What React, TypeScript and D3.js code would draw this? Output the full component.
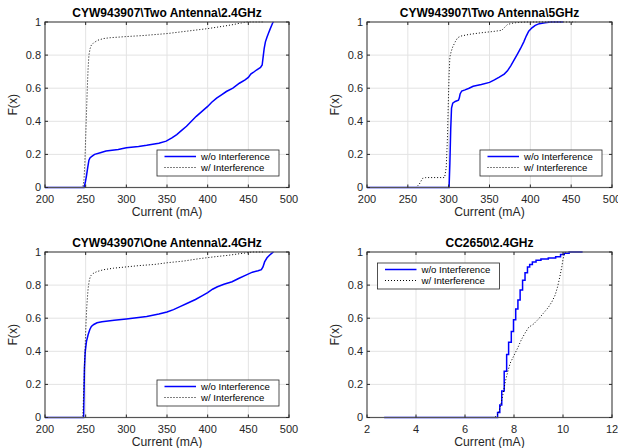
import React from 'react';
import * as d3 from 'd3';

type Pt = [number, number];

// ---- data ----
const titles = [
  'CYW943907\\Two Antenna\\2.4GHz',
  'CYW943907\\Two Antenna\\5GHz',
  'CYW943907\\One Antenna\\2.4GHz',
  'CC2650\\2.4GHz',
];
const legendLabels = ['w/o Interference', 'w/ Interference'];
const mAxTicks = [200, 250, 300, 350, 400, 450, 500];
const ccTicks = [2, 4, 6, 8, 10, 12];
const yTicks = [0, 0.2, 0.4, 0.6, 0.8, 1];

const two24Wo: Pt[] = [
  [200, 0], [248, 0], [249.5, 0.03], [251, 0.07], [252.5, 0.12], [254, 0.165], [255.5, 0.18],
  [258, 0.19], [261, 0.2], [268, 0.21], [275, 0.22], [290, 0.23], [300, 0.24], [315, 0.248],
  [325, 0.255], [340, 0.268], [349, 0.28], [356, 0.3], [362, 0.32], [368, 0.345], [374, 0.37],
  [380, 0.4], [386, 0.43], [393, 0.46], [400, 0.49], [405, 0.515], [411, 0.54], [417, 0.56],
  [423, 0.58], [431, 0.6], [439, 0.63], [446, 0.65], [450, 0.665], [453, 0.685], [456, 0.695],
  [460, 0.71], [465, 0.725], [467, 0.74], [468, 0.78], [469.5, 0.84], [471, 0.88], [473, 0.91],
  [475, 0.935], [477, 0.96], [480, 0.995], [481, 1.0],
];
const two24W: Pt[] = [
  [200, 0], [246.5, 0], [248, 0.05], [249, 0.15], [250, 0.3], [251, 0.45], [252, 0.6], [253, 0.72],
  [254, 0.8], [255.5, 0.84], [257, 0.86], [260, 0.875], [265, 0.89], [272, 0.9], [280, 0.905],
  [300, 0.912], [320, 0.918], [350, 0.93], [375, 0.945], [400, 0.96], [420, 0.975], [432, 0.985],
  [440, 0.993], [448, 1.0], [470, 1.0],
];
const two5Wo: Pt[] = [
  [200, 0], [300.5, 0], [301.5, 0.15], [302.5, 0.35], [303.5, 0.48], [305, 0.51], [308, 0.52],
  [312, 0.527], [313, 0.54], [314, 0.565], [316, 0.583], [320, 0.59], [325, 0.6], [330, 0.612],
  [340, 0.622], [350, 0.635], [356, 0.65], [362, 0.667], [368, 0.685], [372, 0.705], [376, 0.735],
  [380, 0.77], [384, 0.805], [388, 0.84], [392, 0.88], [395, 0.915], [398, 0.945], [402, 0.965],
  [406, 0.98], [411, 0.99], [418, 0.995], [425, 1.0], [440, 1.0],
];
const two5W: Pt[] = [
  [200, 0], [260, 0], [264, 0.02], [268, 0.055], [272, 0.06], [295, 0.06], [297, 0.12],
  [298.5, 0.3], [299.5, 0.5], [300.5, 0.68], [301.5, 0.79], [303, 0.82], [305, 0.85], [308, 0.88],
  [311, 0.905], [315, 0.915], [325, 0.925], [340, 0.935], [355, 0.943], [365, 0.95], [368, 0.965],
  [372, 0.985], [380, 0.995], [395, 1.0], [455, 1.0],
];
const one24Wo: Pt[] = [
  [200, 0], [247.5, 0], [248, 0.15], [248.5, 0.3], [249.5, 0.4], [251, 0.46], [253, 0.5],
  [255, 0.53], [257, 0.55], [260, 0.562], [264, 0.572], [270, 0.578], [285, 0.587], [300, 0.595],
  [325, 0.61], [340, 0.625], [350, 0.638], [358, 0.652], [366, 0.67], [375, 0.69], [385, 0.713],
  [393, 0.735], [400, 0.755], [406, 0.775], [412, 0.79], [420, 0.805], [430, 0.82], [438, 0.84],
  [447, 0.86], [455, 0.878], [462, 0.887], [466, 0.893], [468, 0.91], [470, 0.94], [473, 0.965],
  [476, 0.98], [479, 0.993], [481, 1.0],
];
const one24W: Pt[] = [
  [200, 0], [246.5, 0], [247.5, 0.15], [248.5, 0.3], [249.5, 0.45], [250.5, 0.58], [251.5, 0.68],
  [253, 0.78], [254.5, 0.83], [256, 0.855], [259, 0.87], [264, 0.882], [272, 0.893], [284, 0.902],
  [300, 0.91], [316, 0.918], [335, 0.925], [350, 0.935], [370, 0.945], [390, 0.96], [410, 0.972],
  [425, 0.98], [440, 0.99], [455, 1.0], [470, 1.0],
];
// CC2650 without interference is a visible staircase
const ccWo: Pt[] = [
  [2.7, 0], [7.33, 0.03], [7.42, 0.075], [7.5, 0.16], [7.6, 0.28], [7.7, 0.38], [7.78, 0.455],
  [7.89, 0.52], [7.98, 0.59], [8.07, 0.655], [8.16, 0.71], [8.25, 0.77], [8.35, 0.83], [8.45, 0.875],
  [8.55, 0.91], [8.64, 0.925], [8.75, 0.94], [8.9, 0.95], [9.1, 0.958], [9.4, 0.963], [9.7, 0.972],
  [9.9, 0.985], [10.05, 0.993], [10.25, 1.0], [10.8, 1.0],
];
const ccW: Pt[] = [
  [2.7, 0], [7.2, 0], [7.35, 0.02], [7.45, 0.07], [7.55, 0.14], [7.65, 0.22], [7.75, 0.28],
  [7.85, 0.33], [7.95, 0.36], [8.05, 0.39], [8.15, 0.42], [8.3, 0.47], [8.45, 0.51], [8.6, 0.545],
  [8.8, 0.565], [9.0, 0.595], [9.2, 0.63], [9.4, 0.665], [9.55, 0.7], [9.68, 0.74], [9.78, 0.79],
  [9.87, 0.85], [9.95, 0.91], [10.0, 0.955], [10.05, 0.99], [10.12, 1.0],
];

const FONT = '"Liberation Sans", Arial, Helvetica, sans-serif';
const AX = '#262626';
const GRID = '#e3e3e3';

interface PanelProps {
  title: string;
  left: number; right: number; top: number; bottom: number;
  xDomain: [number, number];
  xTicks: number[];
  wo: Pt[];
  w: Pt[];
  stepWo?: boolean;
  legendPos: 'se' | 'nw';
}

function Panel({ title, left, right, top, bottom, xDomain, xTicks, wo, w, stepWo, legendPos }: PanelProps) {
  const x = d3.scaleLinear().domain(xDomain).range([left, right]);
  const y = d3.scaleLinear().domain([0, 1]).range([bottom, top]);
  const line = d3.line<Pt>().x(d => x(d[0])).y(d => y(d[1]));
  const stepLine = d3.line<Pt>().x(d => x(d[0])).y(d => y(d[1])).curve(d3.curveStepAfter);
  const tl = 3;

  const lw = 122, lh = 26;
  const lx = legendPos === 'nw' ? left + 10.5 : right - 10 - lw;
  const ly = legendPos === 'se' ? bottom - 11.5 - lh : top + 11;

  return (
    <g fontFamily={FONT}>
      {/* grid */}
      {xTicks.map(t => (
        <line key={'gx' + t} x1={x(t)} x2={x(t)} y1={top} y2={bottom} stroke={GRID} strokeWidth={1} />
      ))}
      {yTicks.map(t => (
        <line key={'gy' + t} x1={left} x2={right} y1={y(t)} y2={y(t)} stroke={GRID} strokeWidth={1} />
      ))}
      {/* data */}
      <path d={(stepWo ? stepLine : line)(wo) || ''} fill="none" stroke="#0000ff" strokeWidth={1.5} />
      <path d={line(w) || ''} fill="none" stroke="#000" strokeWidth={1} strokeDasharray="1 2" />
      {/* frame */}
      <rect x={left} y={top} width={right - left} height={bottom - top} fill="none" stroke="#555" strokeWidth={1.2} />
      {/* ticks */}
      {xTicks.map(t => (
        <g key={'tx' + t}>
          <line x1={x(t)} x2={x(t)} y1={bottom} y2={bottom - tl} stroke={AX} />
          <line x1={x(t)} x2={x(t)} y1={top} y2={top + tl} stroke={AX} />
          <text x={x(t)} y={bottom + 15} textAnchor="middle" fontSize={11} fill={AX}>{t}</text>
        </g>
      ))}
      {yTicks.map(t => (
        <g key={'ty' + t}>
          <line x1={left} x2={left + tl} y1={y(t)} y2={y(t)} stroke={AX} />
          <line x1={right} x2={right - tl} y1={y(t)} y2={y(t)} stroke={AX} />
          <text x={left - 4} y={y(t) + 3.5} textAnchor="end" fontSize={11} fill={AX}>{t}</text>
        </g>
      ))}
      {/* labels */}
      <text x={(left + right) / 2} y={top - 5} textAnchor="middle" fontSize={12} fontWeight="bold" fill="#000">{title}</text>
      <text x={(left + right) / 2} y={bottom + 28} textAnchor="middle" fontSize={12.2} fill={AX}>Current (mA)</text>
      <text transform={`translate(${left - 28},${(top + bottom) / 2}) rotate(-90)`} textAnchor="middle" fontSize={12.2} fill={AX}>F(x)</text>
      {/* legend */}
      <g transform={`translate(${lx},${ly})`}>
        <rect x={0} y={0} width={lw} height={lh} fill="#fff" stroke={AX} strokeWidth={0.8} />
        <line x1={7.5} x2={39} y1={6.5} y2={6.5} stroke="#0000ff" strokeWidth={1.5} />
        <text x={44} y={9.8} fontSize={9.6} fill="#000">{legendLabels[0]}</text>
        <line x1={7.5} x2={39} y1={17.5} y2={17.5} stroke="#000" strokeWidth={1} strokeDasharray="1 2" />
        <text x={44} y={20.8} fontSize={9.6} fill="#000">{legendLabels[1]}</text>
      </g>
    </g>
  );
}

export default function App() {
  return (
    <svg width={618} height={448} style={{ position: 'absolute', left: 0, top: 0, background: '#fff' }}>
      <rect width={618} height={448} fill="#fff" />
      <Panel title={titles[0]} left={45} right={289} top={22} bottom={187.5}
        xDomain={[200, 500]} xTicks={mAxTicks} wo={two24Wo} w={two24W} legendPos="se" />
      <Panel title={titles[1]} left={367} right={612} top={22} bottom={187.5}
        xDomain={[200, 500]} xTicks={mAxTicks} wo={two5Wo} w={two5W} legendPos="se" />
      <Panel title={titles[2]} left={45} right={289} top={252} bottom={417.5}
        xDomain={[200, 500]} xTicks={mAxTicks} wo={one24Wo} w={one24W} legendPos="se" />
      <Panel title={titles[3]} left={367} right={612} top={252} bottom={417.5}
        xDomain={[2, 12]} xTicks={ccTicks} wo={ccWo} w={ccW} stepWo legendPos="nw" />
    </svg>
  );
}
